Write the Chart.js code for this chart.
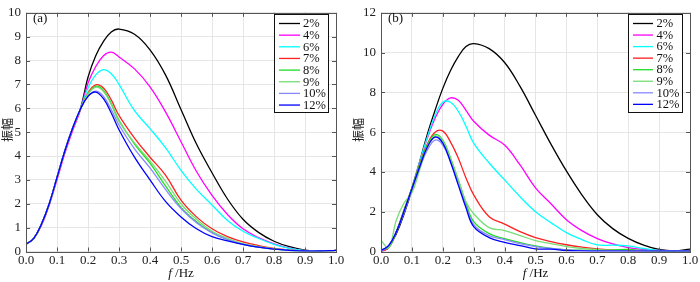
<!DOCTYPE html>
<html>
<head>
<meta charset="utf-8">
<script src="https://cdn.jsdelivr.net/npm/chart.js@4"></script>
<style>
  html, body { margin: 0; padding: 0; background: #fff; }
  #wrap { position: relative; width: 700px; height: 282px; font-family: "Liberation Serif"; }
  canvas { position: absolute; top: 0; }
  #probe { position: absolute; left: -999px; font: 13px "Liberation Serif"; }
</style>
</head>
<body>
<div id="wrap">
  <span id="probe">0.1 振幅 <i>f</i></span>
  <canvas id="chartA" width="350" height="282" style="left:0"></canvas>
  <canvas id="chartB" width="350" height="282" style="left:350px"></canvas>
</div>
<script>
// frequency samples (Hz), shared by both panels
const freq = [0, 0.025, 0.05, 0.075, 0.1, 0.125, 0.15, 0.175, 0.2, 0.225, 0.25, 0.275, 0.3,
              0.35, 0.4, 0.45, 0.5, 0.55, 0.6, 0.65, 0.7, 0.75, 0.8, 0.85, 0.9, 0.95, 1.0];
const seriesLabels = ['2%', '4%', '6%', '7%', '8%', '9%', '10%', '12%'];

// panel (a)
const a2  = [0.3, 0.55, 1.15, 2.0, 3.1, 4.2, 5.15, 5.95, 7.3, 8.2, 8.8, 9.2, 9.32, 9.1, 8.45, 7.4, 5.95, 4.5, 3.3, 2.2, 1.35, 0.8, 0.43, 0.2, 0.06, 0.02, 0.05];
const a4  = [0.3, 0.55, 1.1, 1.95, 3.0, 4.1, 5.05, 5.9, 7.05, 7.75, 8.2, 8.35, 8.15, 7.65, 6.9, 5.85, 4.6, 3.35, 2.35, 1.55, 0.95, 0.58, 0.32, 0.14, 0.04, 0.02, 0.05];
const a6  = [0.3, 0.55, 1.15, 2.0, 3.1, 4.2, 5.15, 5.95, 6.85, 7.4, 7.62, 7.45, 7.0, 5.9, 5.15, 4.35, 3.4, 2.6, 1.95, 1.3, 0.85, 0.55, 0.3, 0.13, 0.04, 0.02, 0.05];
const a7  = [0.3, 0.55, 1.15, 2.0, 3.1, 4.2, 5.15, 5.95, 6.65, 6.98, 6.85, 6.35, 5.7, 4.75, 3.95, 3.2, 2.15, 1.45, 0.95, 0.62, 0.4, 0.25, 0.13, 0.06, 0.02, 0.02, 0.05];
const a8  = [0.3, 0.55, 1.15, 2.0, 3.1, 4.2, 5.15, 5.95, 6.6, 6.92, 6.75, 6.2, 5.5, 4.5, 3.7, 2.75, 1.85, 1.25, 0.8, 0.5, 0.3, 0.18, 0.1, 0.05, 0.02, 0.02, 0.05];
const a9  = [0.3, 0.55, 1.15, 2.0, 3.1, 4.2, 5.15, 5.95, 6.6, 6.88, 6.7, 6.15, 5.45, 4.55, 3.8, 2.95, 2.0, 1.35, 0.85, 0.55, 0.33, 0.2, 0.11, 0.05, 0.02, 0.02, 0.05];
const a10 = [0.3, 0.55, 1.15, 2.0, 3.1, 4.2, 5.15, 5.95, 6.5, 6.72, 6.5, 5.95, 5.3, 4.3, 3.5, 2.6, 1.8, 1.2, 0.78, 0.5, 0.3, 0.18, 0.1, 0.05, 0.02, 0.02, 0.05];
const a12 = [0.3, 0.55, 1.15, 2.0, 3.1, 4.2, 5.15, 5.95, 6.5, 6.68, 6.4, 5.8, 5.1, 3.95, 3.0, 2.1, 1.45, 0.95, 0.62, 0.45, 0.3, 0.18, 0.1, 0.05, 0.02, 0.02, 0.05];

// panel (b)
const b2  = [0, 0.25, 0.9, 1.9, 3.1, 4.5, 5.9, 7.1, 8.2, 9.1, 9.8, 10.3, 10.45, 10.2, 9.5, 8.3, 6.85, 5.4, 4.05, 2.85, 1.85, 1.15, 0.66, 0.32, 0.1, 0.03, 0.12];
const b4  = [0, 0.2, 1.0, 2.0, 3.2, 4.5, 5.7, 6.7, 7.4, 7.72, 7.6, 7.1, 6.55, 5.85, 5.35, 4.35, 3.2, 2.4, 1.6, 1.05, 0.65, 0.38, 0.2, 0.1, 0.05, 0.03, 0.03];
const b6  = [0, 0.2, 1.0, 2.0, 3.2, 4.5, 5.75, 6.85, 7.5, 7.5, 7.05, 6.3, 5.45, 4.45, 3.6, 2.75, 2.0, 1.45, 0.95, 0.6, 0.33, 0.32, 0.28, 0.15, 0.05, 0.02, 0.02];
const b7  = [0, 0.2, 1.0, 2.1, 3.2, 4.4, 5.4, 6.0, 6.05, 5.5, 4.7, 3.7, 2.85, 1.75, 1.38, 1.0, 0.7, 0.5, 0.34, 0.22, 0.13, 0.08, 0.05, 0.03, 0.02, 0.02, 0.02];
const b8  = [0.1, 0.2, 1.0, 2.1, 3.2, 4.35, 5.35, 5.88, 5.6, 4.7, 3.6, 2.45, 1.5, 0.9, 0.65, 0.45, 0.28, 0.15, 0.08, 0.06, 0.06, 0.08, 0.1, 0.05, 0.02, 0.02, 0.02];
const b9  = [0.55, 0.2, 1.6, 2.45, 2.95, 4.1, 5.25, 5.8, 5.55, 4.65, 3.6, 2.5, 1.9, 1.2, 1.05, 0.8, 0.55, 0.4, 0.25, 0.15, 0.1, 0.06, 0.04, 0.03, 0.02, 0.02, 0.02];
const b10 = [0, 0.3, 1.0, 2.0, 3.1, 4.2, 5.1, 5.6, 5.35, 4.5, 3.4, 2.3, 1.35, 0.8, 0.6, 0.4, 0.25, 0.15, 0.08, 0.05, 0.03, 0.03, 0.03, 0.03, 0.03, 0.03, 0.03];
const b12 = [0.05, 0.3, 1.0, 2.05, 3.15, 4.25, 5.25, 5.75, 5.45, 4.5, 3.35, 2.2, 1.25, 0.7, 0.46, 0.3, 0.13, 0.12, 0.05, 0.03, 0.02, 0.02, 0.02, 0.02, 0.02, 0.02, 0.02];

const lineColors = ['#000000', '#ff00ff', '#00ffff', '#ff2020', '#22dd22', '#77dd77', '#8888ff', '#0000ff'];

const serif = '"Liberation Serif"';

// frame with inward ticks, inset legend, panel tag and axis titles
const framePlugin = {
    id: 'frame',
    afterDatasetsDraw(chart, args, opts) {
        const ctx = chart.ctx;
        const area = chart.chartArea;
        const xs = chart.scales.x, ys = chart.scales.y;
        ctx.save();
        ctx.strokeStyle = '#555';
        ctx.lineWidth = 1;
        ctx.beginPath();
        xs.ticks.forEach(t => {
            const px = Math.round(xs.getPixelForValue(t.value)) + 0.5;
            ctx.moveTo(px, area.bottom); ctx.lineTo(px, area.bottom - 4);
            ctx.moveTo(px, area.top); ctx.lineTo(px, area.top + 4);
        });
        ys.ticks.forEach(t => {
            const py = Math.round(ys.getPixelForValue(t.value)) + 0.5;
            ctx.moveTo(area.left, py); ctx.lineTo(area.left + 4, py);
            ctx.moveTo(area.right, py); ctx.lineTo(area.right - 4, py);
        });
        ctx.stroke();
        ctx.strokeRect(Math.round(area.left) + 0.5, Math.round(area.top) + 0.5,
                       Math.round(area.right - area.left), Math.round(area.bottom - area.top));

        // legend, in the original series order
        const lg = opts.legend;
        ctx.fillStyle = '#fff';
        ctx.fillRect(lg.x, lg.y, lg.w, lg.h);
        ctx.strokeStyle = '#111';
        ctx.strokeRect(lg.x + 0.5, lg.y + 0.5, lg.w, lg.h);
        ctx.font = '12.5px ' + serif;
        ctx.textBaseline = 'middle';
        ctx.textAlign = 'left';
        seriesLabels.forEach((label, i) => {
            const ry = lg.row0 + i * lg.step;
            ctx.strokeStyle = lineColors[i];
            ctx.lineWidth = 1.3;
            ctx.beginPath();
            ctx.moveTo(lg.l0, ry); ctx.lineTo(lg.l1, ry);
            ctx.stroke();
            ctx.fillStyle = '#111';
            ctx.fillText(label, lg.tx, ry + 0.5);
        });

        // panel tag
        ctx.font = '13px ' + serif;
        ctx.fillStyle = '#111';
        ctx.fillText(opts.tag, area.left + 7, 18.5);

        // x title: italic f + /Hz
        ctx.font = 'italic 13px ' + serif;
        const w1 = ctx.measureText('f').width;
        ctx.font = '13px ' + serif;
        const w2 = ctx.measureText(' /Hz').width;
        const sx = (area.left + area.right) / 2 - (w1 + w2) / 2;
        ctx.font = 'italic 13px ' + serif;
        ctx.fillText('f', sx, 274);
        ctx.font = '13px ' + serif;
        ctx.fillText(' /Hz', sx + w1, 274);

        // y title
        ctx.translate(opts.yTitleX, 130);
        ctx.rotate(-Math.PI / 2);
        ctx.textAlign = 'center';
        ctx.font = '12px "Noto Sans CJK SC"';
        ctx.fillStyle = '#222';
        ctx.fillText('振幅', 0, 0);
        ctx.restore();
    }
};

function buildChart(id, values, yMax, yStep, yWidth, padRight, tag, legend, yTitleX) {
    const datasets = values.map((vals, i) => ({
        label: seriesLabels[i],
        data: freq.map((f, k) => ({ x: f, y: vals[k] })),
        borderColor: lineColors[i],
        borderWidth: 1.3,
        pointRadius: 0,
        fill: false,
        tension: 0.4
    }));
    // first series ends up on top
    datasets.reverse();
    return new Chart(document.getElementById(id), {
        type: 'line',
        data: { datasets: datasets },
        options: {
            responsive: false,
            animation: false,
            layout: { padding: { top: 7, right: padRight, left: 0, bottom: 0 } },
            plugins: {
                legend: { display: false },
                tooltip: { enabled: false },
                frame: { tag: tag, legend: legend, yTitleX: yTitleX }
            },
            scales: {
                x: {
                    type: 'linear', min: 0, max: 1,
                    border: { display: false },
                    grid: { color: '#e6e6e6', drawTicks: false },
                    ticks: {
                        stepSize: 0.1, autoSkip: false, maxRotation: 0, padding: 1,
                        color: '#222', font: { family: serif, size: 13 },
                        callback: v => v.toFixed(1)
                    },
                    afterFit: s => { s.height = 30.5; }
                },
                y: {
                    min: 0, max: yMax,
                    border: { display: false },
                    grid: { color: '#e6e6e6', drawTicks: false },
                    ticks: {
                        stepSize: yStep, padding: 5,
                        color: '#222', font: { family: serif, size: 13 }
                    },
                    afterFit: s => { s.width = yWidth; }
                }
            }
        },
        plugins: [framePlugin]
    });
}

function draw() {
    buildChart('chartA', [a2, a4, a6, a7, a8, a9, a10, a12], 10, 1, 26, 14, '(a)',
        { x: 274, y: 14, w: 54, h: 98, l0: 279, l1: 300, tx: 303, row0: 23.5, step: 11.65 }, 7);
    buildChart('chartB', [b2, b4, b6, b7, b8, b9, b10, b12], 12, 2, 31, 10, '(b)',
        { x: 278, y: 14, w: 54, h: 98, l0: 283, l1: 303, tx: 306.5, row0: 23.5, step: 11.55 }, 8);
}

Promise.all([
    document.fonts.load('13px "Liberation Serif"'),
    document.fonts.load('italic 13px "Liberation Serif"'),
    document.fonts.load('12px "Noto Sans CJK SC"', '振幅')
]).then(draw, draw);
</script>
</body>
</html>
